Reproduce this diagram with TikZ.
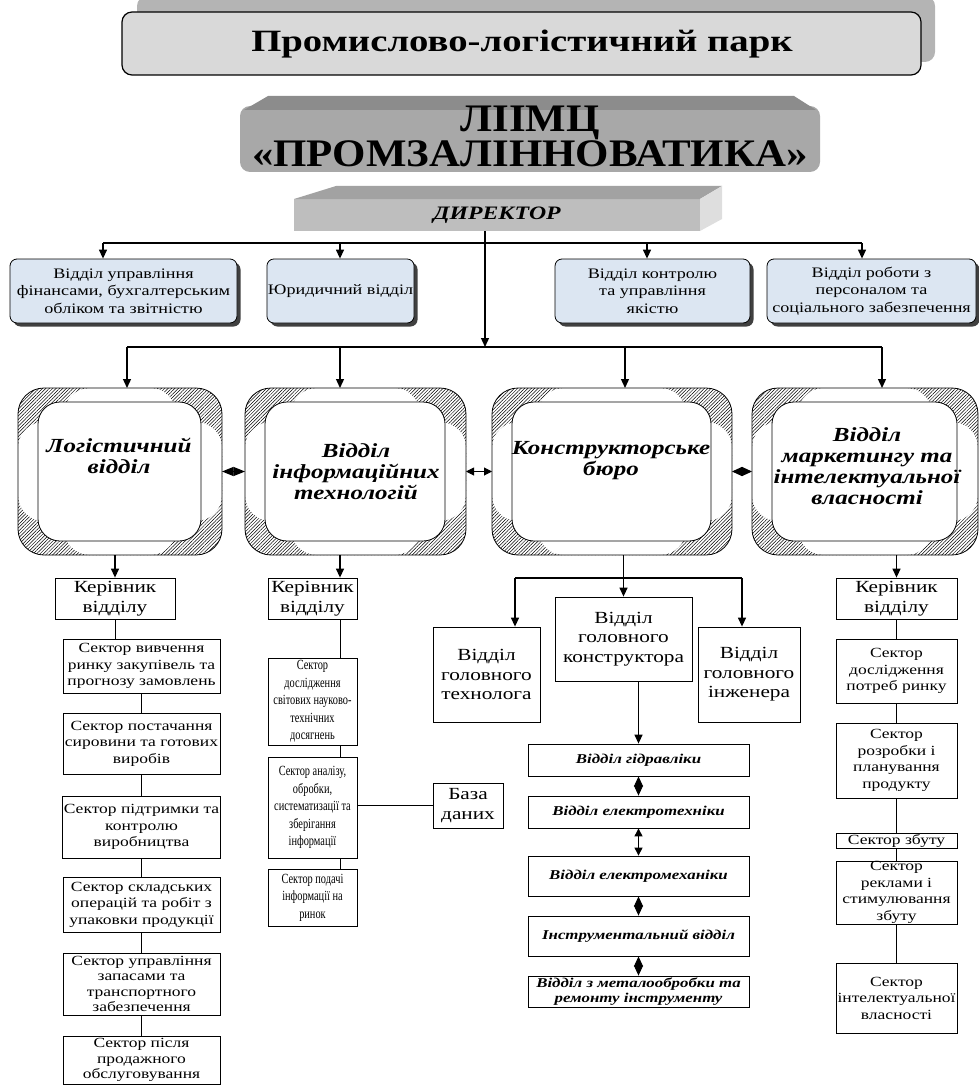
\documentclass[tikz,border=0pt]{standalone}
\usepackage{fontspec}
\setmainfont{Liberation Serif}[FakeStretch=1.25]
\newfontfamily\narrowserif{Liberation Serif}[FakeStretch=0.74]
\newfontfamily\titleserif{Liberation Serif}[FakeStretch=1.1]
\usetikzlibrary{arrows.meta,shadows,patterns.meta,calc}

\definecolor{bluefill}{HTML}{DCE6F2}
\definecolor{bannerfill}{HTML}{D9D9D9}
\definecolor{bannershadow}{HTML}{B4B4B4}
\definecolor{liimbody}{HTML}{A8A8A8}
\definecolor{liimtop}{HTML}{8C8C8C}
\definecolor{dirfront}{HTML}{BEBEBE}
\definecolor{dirtop}{HTML}{A2A2A2}
\definecolor{dirside}{HTML}{DEDEDE}

\tikzset{
  arr/.style={line width=1.3pt, -{Triangle[length=9pt,width=8pt]}},
  dia/.style={line width=1pt, {Triangle[length=10pt,width=9pt]}-{Triangle[length=10pt,width=9pt]}},
  diaw/.style={line width=1pt, {Triangle[length=11.5pt,width=9pt]}-{Triangle[length=11.5pt,width=9pt]}},
  dbl/.style={line width=1pt, {Triangle[length=8pt,width=8pt]}-{Triangle[length=8pt,width=8pt]}},
  ln/.style={line width=0.8pt},
  bluebox/.style={draw, line width=0.8pt, rounded corners=7pt, fill=bluefill, align=center,
    inner sep=1pt, minimum height=64pt, font=\fontsize{14.5}{17.5}\selectfont,
    drop shadow={shadow xshift=3.5pt, shadow yshift=-3.5pt, fill=black!75, opacity=1}},
  bevel/.style={draw, line width=0.8pt, rounded corners=26pt, inner sep=0pt, outer sep=0pt,
    minimum height=167pt,
    path picture={
      \fill[pattern={Lines[angle=45,distance=2.4pt,line width=0.5pt]}]
        (path picture bounding box.south west) rectangle (path picture bounding box.north east);
      \fill[white] ($(path picture bounding box.north west)+(46pt,0pt)$)
        rectangle ($(path picture bounding box.south east)+(-46pt,0pt)$);
      \fill[white] ($(path picture bounding box.north west)+(0pt,-34pt)$)
        rectangle ($(path picture bounding box.south east)+(0pt,34pt)$);
      \draw[fill=white, line width=0.8pt, rounded corners=22pt]
        ($(path picture bounding box.north west)+(20pt,-14pt)$)
        rectangle ($(path picture bounding box.south east)+(-21pt,14pt)$);
    }},
  bigtxt/.style={align=center, font=\fontsize{20}{21}\selectfont\bfseries\itshape},
  sect/.style={draw, line width=0.8pt, fill=white, align=center, inner xsep=1pt, inner ysep=0pt,
    font=\fontsize{14}{16.5}\selectfont},
  itsect/.style={sect, minimum width=89pt, font=\narrowserif\fontsize{14}{17.5}\selectfont},
  ker/.style={sect, font=\fontsize{17}{20}\selectfont},
  depc/.style={sect, font=\fontsize{17}{19.5}\selectfont},
  biv/.style={sect, minimum width=221pt, font=\fontsize{13.5}{15}\selectfont\bfseries\itshape}
}

\begin{document}
\begin{tikzpicture}[x=1pt,y=-1pt]
\useasboundingbox (0,0) rectangle (979,1086);

% park banner
\fill[bannershadow, rounded corners=10pt] (137,-4) rectangle (935,62);
\filldraw[fill=bannerfill, line width=1.2pt, rounded corners=10pt] (122,12) rectangle (921,75);
\node[font=\fontsize{31}{34}\selectfont\bfseries] (park) at (522,44) {Промислово-логістичний парк};

% liimc block
\fill[liimbody, rounded corners=10pt] (240,106) rectangle (820,172);
\fill[liimtop] (244,110) -- (268,96) -- (794,96) -- (816,110) -- cycle;
\node[align=center, font=\titleserif\fontsize{39}{34}\selectfont\bfseries] (liimc) at (530,136)
  {ЛІІМЦ\\«ПРОМЗАЛІННОВАТИКА»};

% director
\fill[dirfront] (294,199) rectangle (700,231);
\fill[dirtop] (294,199) -- (336,186) -- (722,186) -- (700,199) -- cycle;
\fill[dirside] (700,199) -- (722,186) -- (722,219) -- (700,231) -- cycle;
\node[font=\fontsize{19}{22}\selectfont\bfseries\itshape] (dir) at (497,215) {ДИРЕКТОР};
\coordinate (dirB) at (485,231);

% staff departments
\node[bluebox, minimum width=227pt] (fin) at (123.5,291) {Відділ управління\\фінансами, бухгалтерським\\обліком та звітністю};
\node[bluebox, minimum width=143pt] (jur) at (340.5,291) {Юридичний відділ};
\node[bluebox, minimum width=195pt] (qual) at (652.5,291) {Відділ контролю\\та управління\\якістю};
\node[bluebox, minimum width=209pt] (pers) at (871.5,291) {Відділ роботи з\\персоналом та\\соціального забезпечення};

\coordinate (tb1) at (103,243);
\coordinate (tb2) at (340,243);
\coordinate (tb3) at (647,243);
\coordinate (tb4) at (862,243);
\draw[line width=1.3pt] (tb1) -- (tb4);
\foreach \c/\n in {tb1/fin, tb2/jur, tb3/qual, tb4/pers}
  \draw[arr] (\c) -- (\c |- \n.north);

% main departments
\node[bevel, minimum width=204pt] (logist) at (120,471.5) {};
\node[bevel, minimum width=221pt] (itdep) at (355.5,471.5) {};
\node[bevel, minimum width=240pt] (kb) at (612,471.5) {};
\node[bevel, minimum width=226pt] (mark) at (865,471.5) {};
\node[bigtxt] (logistT) at (119,456) {Логістичний\\відділ};
\node[bigtxt] (itdepT) at (356,472) {Відділ\\інформаційних\\технологій};
\node[bigtxt] (kbT) at (611,461) {Конструкторське\\бюро};
\node[bigtxt] (markT) at (867,466) {Відділ\\маркетингу та\\інтелектуальної\\власності};

\coordinate (bus0) at (485,347);
\coordinate (busA) at (127,347);
\coordinate (busB) at (340,347);
\coordinate (busC) at (625,347);
\coordinate (busD) at (882,347);
\draw[arr] (dirB) -- (bus0);
\draw[line width=1.3pt] (busA) -- (busD);
\foreach \b/\n in {busA/logist, busB/itdep, busC/kb, busD/mark}
  \draw[arr] (\b) -- (\b |- \n.north);

\draw[diaw] (logist.east) -- (itdep.west);
\draw[dbl] (itdep.east) -- (kb.west);
\draw[dia] (kb.east) -- (mark.west);

% logistics column
\node[ker, minimum width=120pt, minimum height=41pt] (kerA) at (115,598.5) {Керівник\\відділу};
\node[sect, minimum width=157pt, minimum height=54pt] (s1) at (141.5,666) {Сектор вивчення\\ринку закупівель та\\прогнозу замовлень};
\node[sect, minimum width=157pt, minimum height=61pt] (s2) at (141.5,743.5) {Сектор постачання\\сировини та готових\\виробів};
\node[sect, minimum width=157pt, minimum height=62pt] (s3) at (141.5,827) {Сектор підтримки та\\контролю\\виробництва};
\node[sect, minimum width=157pt, minimum height=55pt] (s4) at (141.5,904.5) {Сектор складських\\операцій та робіт з\\упаковки продукції};
\node[sect, minimum width=157pt, minimum height=62pt, font=\fontsize{14}{15.5}\selectfont] (s5) at (141.5,984) {Сектор управління\\запасами та\\транспортного\\забезпечення};
\node[sect, minimum width=157pt, minimum height=48pt, font=\fontsize{14}{15.5}\selectfont] (s6) at (141.5,1060) {Сектор після\\продажного\\обслуговування};
\draw[arr] (kerA.north |- logist.south) -- (kerA.north);
\draw[ln] (kerA.south) -- (kerA.south |- s1.north);
\foreach \a/\b in {s1/s2, s2/s3, s3/s4, s4/s5, s5/s6}
  \draw[ln] (\a.south) -- (\b.north);

% it column
\node[ker, minimum width=89pt, minimum height=41pt] (kerB) at (312.5,598.5) {Керівник\\відділу};
\node[itsect, minimum height=87pt] (it1) at (312.5,701.5) {Сектор\\дослідження\\світових науково-\\технічних\\досягнень};
\node[itsect, minimum height=101pt] (it2) at (312.5,807.5) {Сектор аналізу,\\обробки,\\систематизації та\\зберігання\\інформації};
\node[itsect, minimum height=57pt] (it3) at (312.5,897.5) {Сектор подачі\\інформації на\\ринок};
\node[ker, minimum width=70pt, minimum height=45pt] (baza) at (468,805.5) {База\\даних};
\draw[arr] (busB |- itdep.south) -- (busB |- kerB.north);
\draw[ln] (busB |- kerB.south) -- (busB |- it1.north);
\draw[ln] (busB |- it1.south) -- (busB |- it2.north);
\draw[ln] (busB |- it2.south) -- (busB |- it3.north);
\draw[ln] (it2.east |- baza.west) -- (baza.west);

% design bureau column
\node[depc, minimum width=107pt, minimum height=95pt] (tech) at (486.5,674.5) {Відділ\\головного\\технолога};
\node[depc, minimum width=137pt, minimum height=84pt] (konstr) at (623.5,639) {Відділ\\головного\\конструктора};
\node[depc, minimum width=102pt, minimum height=95pt] (inzh) at (749,674.5) {Відділ\\головного\\інженера};
\coordinate (cl) at (515,578);
\coordinate (cr) at (742,578);
\draw[arr] (konstr.north |- kb.south) -- (konstr.north);
\draw[line width=1.3pt] (cl) -- (cr);
\draw[arr] (cl) -- (cl |- tech.north);
\draw[arr] (cr) -- (cr |- inzh.north);

\node[biv, minimum height=32pt] (gidr) at (638.5,760) {Відділ гідравліки};
\node[biv, minimum height=32pt] (eltech) at (638.5,812) {Відділ електротехніки};
\node[biv, minimum height=40pt] (elmech) at (638.5,876) {Відділ електромеханіки};
\node[biv, minimum height=40pt] (instr) at (638.5,936) {Інструментальний відділ};
\node[biv, minimum height=31pt] (metal) at (638.5,991.5) {Відділ з металообробки та\\ремонту інструменту};
\draw[arr] (gidr.north |- konstr.south) -- (gidr.north);
\draw[dia] (gidr.south) -- (eltech.north);
\draw[dbl] (eltech.south) -- (elmech.north);
\draw[dia] (elmech.south) -- (instr.north);
\draw[dia] (instr.south) -- (metal.north);

% marketing column
\node[ker, minimum width=121pt, minimum height=41pt] (kerD) at (896.5,598.5) {Керівник\\відділу};
\node[sect, minimum width=121pt, minimum height=64pt] (d1) at (896.5,671) {Сектор\\дослідження\\потреб ринку};
\node[sect, minimum width=121pt, minimum height=75pt] (d2) at (896.5,760.5) {Сектор\\розробки і\\планування\\продукту};
\node[sect, minimum width=121pt, minimum height=15pt] (d3) at (896.5,840.5) {Сектор збуту};
\node[sect, minimum width=121pt, minimum height=63pt] (d4) at (896.5,892.5) {Сектор\\реклами і\\стимулювання\\збуту};
\node[sect, minimum width=121pt, minimum height=70pt] (d5) at (896.5,998) {Сектор\\інтелектуальної\\власності};
\draw[arr] (kerD.north |- mark.south) -- (kerD.north);
\draw[ln] (kerD.south) -- (d1.north);
\foreach \a/\b in {d1/d2, d2/d3, d3/d4, d4/d5}
  \draw[ln] (\a.south) -- (\b.north);
\end{tikzpicture}
\end{document}
